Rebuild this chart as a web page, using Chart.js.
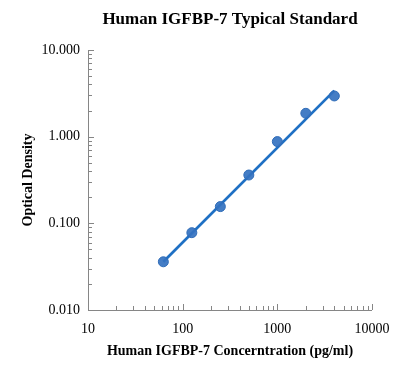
<!DOCTYPE html>
<html>
<head>
<meta charset="utf-8">
<script src="https://cdn.jsdelivr.net/npm/chart.js@4.4.0/dist/chart.umd.min.js"></script>
<style>
  html, body { margin:0; padding:0; background:#fff; }
  #wrap { width:396px; height:376px; }
</style>
</head>
<body>
<div id="wrap"><canvas id="grafico" width="396" height="376"></canvas></div>
<script>
var concentracao = [62.5, 125, 250, 500, 1000, 2000, 4000]
var densidade = [0.036, 0.078, 0.156, 0.361, 0.877, 1.86, 2.95]
var linhaX = [62.5, 4000]
var linhaY = [0.036, 3.4]
var ticksX = [10, 100, 1000, 10000]
var ticksY = [0.01, 0.1, 1, 10]

function todosTicks(decadas) {
  var lista = []
  for (var i = 0; i < decadas.length; i++) {
    if (i == decadas.length - 1) { lista.push(decadas[i]); break }
    for (var k = 1; k < 10; k++) lista.push(decadas[i] * k)
  }
  return lista
}

var serif = "'Liberation Serif', 'Times New Roman', serif"

var tracinhos = {
  id: 'tracinhos',
  afterDraw: function (chart) {
    var c = chart.ctx, a = chart.chartArea
    var sx = chart.scales.x, sy = chart.scales.y
    c.save()
    c.strokeStyle = '#868686'
    c.lineWidth = 1
    c.beginPath()
    c.moveTo(a.left + 0.5, a.top)
    c.lineTo(a.left + 0.5, a.bottom + 0.5)
    c.lineTo(a.right, a.bottom + 0.5)
    c.stroke()
    todosTicks(ticksX).forEach(function (v) {
      var x = Math.round(sx.getPixelForValue(v)) + 0.5
      var len = ticksX.indexOf(v) >= 0 ? 6 : 4
      c.beginPath(); c.moveTo(x, a.bottom); c.lineTo(x, a.bottom - len); c.stroke()
    })
    todosTicks(ticksY).forEach(function (v) {
      var y = Math.round(sy.getPixelForValue(v)) + 0.5
      var len = ticksY.indexOf(v) >= 0 ? 6 : 4
      c.beginPath(); c.moveTo(a.left, y); c.lineTo(a.left + len, y); c.stroke()
    })
    c.fillStyle = '#000'
    c.font = 'bold 17px ' + serif
    c.textAlign = 'center'
    c.textBaseline = 'middle'
    c.fillText('Human IGFBP-7 Typical Standard', (a.left + a.right) / 2, 20)
    c.restore()
  }
}

var ctx = document.getElementById('grafico')

var grafico = new Chart(ctx, {
  type: 'scatter',
  data: {
    datasets: [
      {
        label: 'ajuste',
        data: linhaX.map(function (x, i) { return { x: x, y: linhaY[i] } }),
        showLine: true,
        borderColor: '#1f70c4',
        borderWidth: 2.75,
        pointRadius: 0,
        order: 2
      },
      {
        label: 'padrao',
        data: concentracao.map(function (x, i) { return { x: x, y: densidade[i] } }),
        backgroundColor: 'rgba(52,114,192,0.92)',
        borderColor: '#2f6cb8',
        borderWidth: 1,
        pointRadius: 5,
        order: 1
      }
    ]
  },
  options: {
    responsive: false,
    animation: false,
    layout: { padding: { top: 50, right: 24, left: 20, bottom: 16 } },
    plugins: { legend: { display: false }, tooltip: { enabled: false } },
    scales: {
      x: {
        type: 'logarithmic',
        min: 10, max: 10000,
        afterBuildTicks: function (s) { s.ticks = ticksX.map(function (v) { return { value: v } }) },
        afterFit: function (s) { s.height = 50; s.paddingLeft = 0; s.paddingRight = 0 },
        ticks: {
          color: '#000', font: { family: serif, size: 14 }, padding: 11, maxRotation: 0,
          callback: function (v) { return String(v) }
        },
        grid: { display: false, drawTicks: false, tickLength: 0 },
        border: { display: false },
        title: {
          display: true, text: 'Human IGFBP-7 Concerntration (pg/ml)',
          color: '#000', font: { family: serif, size: 14, weight: 'bold' }, padding: 0
        }
      },
      y: {
        type: 'logarithmic',
        min: 0.01, max: 10,
        afterBuildTicks: function (s) { s.ticks = ticksY.map(function (v) { return { value: v } }) },
        afterFit: function (s) { s.width = 68; s.paddingTop = 0; s.paddingBottom = 0 },
        ticks: {
          color: '#000', font: { family: serif, size: 14 }, padding: 8,
          callback: function (v) { return Number(v).toFixed(3) }
        },
        grid: { display: false, drawTicks: false, tickLength: 0 },
        border: { display: false },
        title: {
          display: true, text: 'Optical Density',
          color: '#000', font: { family: serif, size: 14, weight: 'bold' }, padding: 0
        }
      }
    }
  },
  plugins: [tracinhos]
})
</script>
</body>
</html>
